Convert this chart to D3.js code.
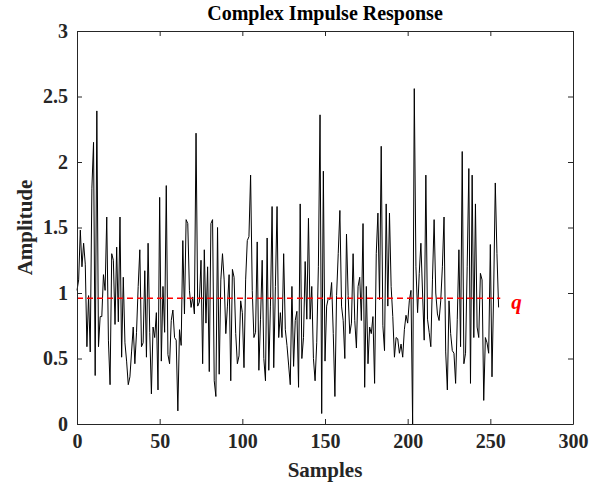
<!DOCTYPE html>
<html>
<head>
<meta charset="utf-8">
<script src="https://cdn.jsdelivr.net/npm/d3@7"></script>
<style>
  body { margin: 0; background: #fff; }
  svg { font-family: "Liberation Serif", "Times New Roman", serif; }
</style>
</head>
<body>
<svg id="chart" width="602" height="485"></svg>
<script>
// amplitude of each sample
const amplitude = [
  1.02,1.10,1.48,1.20,1.38,1.22,0.59,0.98,0.55,1.80,2.15,0.37,2.39,0.59,0.82,0.82,1.14,1.02,1.58,0.64,0.30,1.30,1.25,0.76,1.35,0.78,
  1.58,0.51,1.12,0.62,0.48,0.30,0.36,0.55,0.74,0.46,0.70,1.05,1.33,0.59,0.62,1.17,0.51,1.38,0.70,0.23,0.74,0.66,0.85,0.26,1.73,
  0.48,1.05,0.70,1.82,0.53,0.46,0.79,0.87,0.66,0.64,0.10,0.72,0.60,1.40,0.84,1.56,1.53,1.02,0.89,0.97,0.84,2.22,0.90,0.93,1.25,0.46,1.33,
  0.77,1.20,0.40,1.53,1.56,0.33,0.21,1.50,0.38,1.10,1.30,1.10,0.69,0.90,1.14,0.33,1.18,1.12,0.69,0.46,0.52,0.94,0.85,0.43,1.10,1.40,
  1.43,1.90,1.02,0.66,0.70,1.39,0.41,0.80,1.25,0.50,0.33,1.42,0.41,0.90,1.66,0.43,1.05,1.66,0.66,0.85,0.66,1.30,0.72,0.60,0.45,0.30,
  1.05,0.44,0.79,0.86,0.28,1.68,0.50,0.66,1.24,0.80,1.57,0.80,1.05,0.50,0.33,0.62,1.20,2.36,0.08,1.93,0.48,0.90,0.96,0.95,1.08,0.69,
  0.21,0.98,1.30,1.63,0.90,0.79,0.50,1.45,0.98,0.69,0.77,1.30,0.79,0.58,1.05,1.12,0.79,1.53,0.28,1.05,0.46,0.74,0.69,0.82,0.31,1.30,
  1.61,0.95,2.12,0.75,0.56,1.68,0.90,1.61,1.05,0.82,0.51,0.66,0.65,0.54,0.61,0.51,0.72,0.83,0.77,0.94,1.02,0.00,2.56,1.20,0.85,1.15,
  1.38,1.00,0.64,1.90,0.80,0.70,0.59,1.10,1.56,1.00,0.84,0.79,0.94,1.20,1.58,0.55,0.26,0.94,0.69,0.56,0.54,0.31,0.80,1.33,0.59,2.08,
  0.46,0.54,1.20,1.95,0.31,1.90,0.66,1.68,0.74,0.66,1.15,1.10,0.18,0.66,0.62,0.54,1.37,0.36,1.00,1.84,1.30,0.89
];
const samples = amplitude.map((d, i) => i);

const threshold = 0.96;   // q line
const thresholdLabel = "q";
const xTicks = [0, 50, 100, 150, 200, 250, 300];
const yTicks = [0, 0.5, 1, 1.5, 2, 2.5, 3];

const svg = d3.select("#chart");
const margin = {top: 31, right: 29, bottom: 61, left: 77};
const innerWidth = 602 - margin.left - margin.right;
const innerHeight = 485 - margin.top - margin.bottom;

const xScale = d3.scaleLinear().domain([0, 300]).range([0, innerWidth]);
const yScale = d3.scaleLinear().domain([0, 3]).range([innerHeight, 0]);

const g = svg.append("g").attr("transform", `translate(${margin.left},${margin.top})`);

/*the signal*/
const lineGenerator = d3.line()
  .x((d, i) => xScale(samples[i]))
  .y(d => yScale(d));

g.append("path")
  .attr("d", lineGenerator(amplitude))
  .attr("fill", "none")
  .attr("stroke", "#000")
  .attr("stroke-width", 1);

/*threshold line*/
g.append("line")
  .attr("x1", xScale(0))
  .attr("x2", xScale(samples.length))
  .attr("y1", yScale(threshold))
  .attr("y2", yScale(threshold))
  .attr("stroke", "#ff0000")
  .attr("stroke-width", 1.5)
  .attr("stroke-dasharray", "6,4");

g.append("text")
  .attr("x", xScale(samples.length) + 11)
  .attr("y", yScale(threshold) + 11)
  .attr("fill", "#ff0000")
  .attr("font-size", 21)
  .attr("font-weight", "bold")
  .attr("font-style", "italic")
  .text(thresholdLabel);

/*axes, MATLAB box style with inward ticks*/
function styleAxis(sel) {
  sel.select(".domain").attr("stroke", "#262626").attr("stroke-width", 1);
  sel.selectAll(".tick line").attr("stroke", "#262626");
  sel.selectAll("text")
    .attr("font-family", "Liberation Serif, Times New Roman, serif")
    .attr("font-size", 20)
    .attr("font-weight", "bold")
    .attr("fill", "#262626");
}

g.append("g")
  .attr("transform", `translate(0,${innerHeight})`)
  .call(d3.axisBottom(xScale).tickValues(xTicks).tickSizeInner(-5).tickSizeOuter(0).tickPadding(10))
  .call(styleAxis);

g.append("g")
  .call(d3.axisTop(xScale).tickValues(xTicks).tickSizeInner(-5).tickSizeOuter(0))
  .call(styleAxis)
  .call(a => a.selectAll("text").remove());

g.append("g")
  .call(d3.axisLeft(yScale).tickValues(yTicks).tickSizeInner(-5).tickSizeOuter(0).tickPadding(9).tickFormat(d3.format("")))
  .call(styleAxis);

g.append("g")
  .attr("transform", `translate(${innerWidth},0)`)
  .call(d3.axisRight(yScale).tickValues(yTicks).tickSizeInner(-5).tickSizeOuter(0))
  .call(styleAxis)
  .call(a => a.selectAll("text").remove());

/*labels*/
svg.append("text")
  .attr("x", margin.left + innerWidth / 2)
  .attr("y", 20)
  .attr("text-anchor", "middle")
  .attr("font-size", 20)
  .attr("font-weight", "bold")
  .text("Complex Impulse Response");

svg.append("text")
  .attr("x", margin.left + innerWidth / 2)
  .attr("y", 477)
  .attr("text-anchor", "middle")
  .attr("font-size", 21)
  .attr("font-weight", "bold")
  .attr("fill", "#262626")
  .text("Samples");

svg.append("text")
  .attr("transform", `translate(32,${margin.top + innerHeight / 2}) rotate(-90)`)
  .attr("text-anchor", "middle")
  .attr("font-size", 21)
  .attr("font-weight", "bold")
  .attr("fill", "#262626")
  .text("Amplitude");
</script>
</body>
</html>
